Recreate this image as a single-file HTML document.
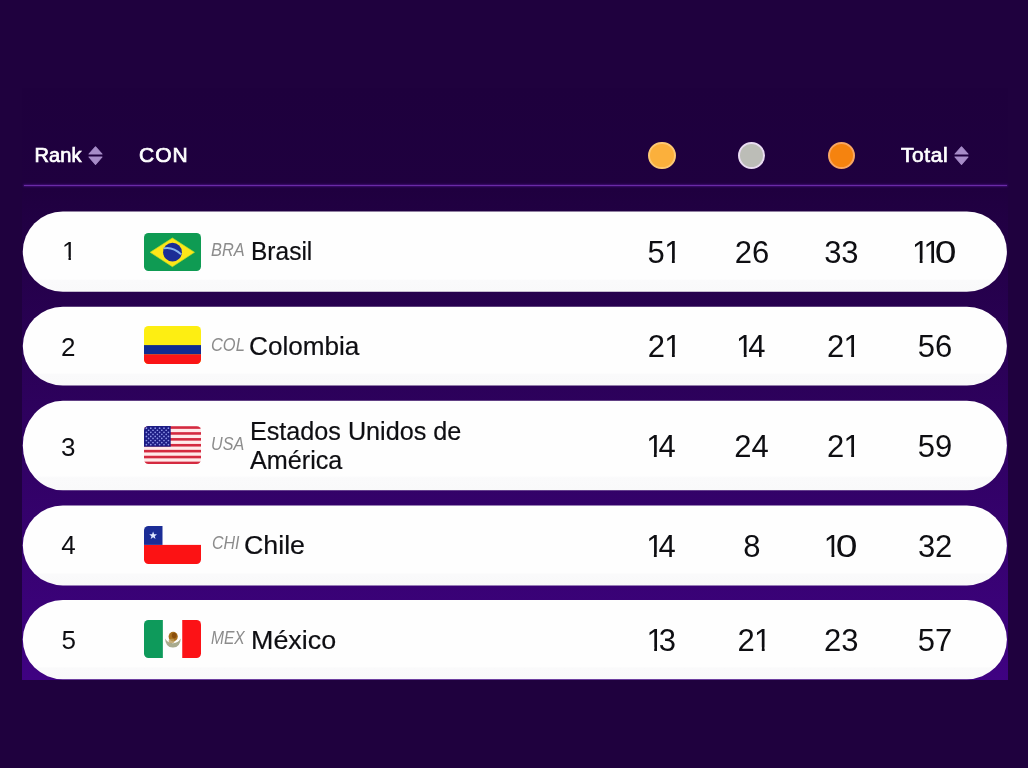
<!DOCTYPE html>
<html lang="es">
<head>
<meta charset="utf-8">
<title>Medallero</title>
<style>
html,body{margin:0;padding:0;}
body{width:1028px;height:768px;overflow:hidden;background:#1f013e;font-family:"Liberation Sans",sans-serif;position:relative;}
.panel{position:absolute;left:22px;top:88px;width:985.5px;height:592px;background:linear-gradient(180deg,#1e003d 0%,#1f003f 17%,#3f0282 100%);}
.hline{position:absolute;left:23.5px;top:185px;width:983.5px;height:1px;background:#6a2aa6;box-shadow:0 0 2px 0.6px #4a1288;}
.t{position:absolute;white-space:nowrap;transform-origin:0 50%;margin:0;}
.th{color:#fff;font-size:20px;line-height:22px;-webkit-text-stroke:0.7px #fff;}
.sort{position:absolute;width:15px;height:19px;}
.dot{position:absolute;width:27.2px;height:27.2px;border-radius:50%;top:141.6px;box-sizing:border-box;}
.rows{position:absolute;left:0;top:0;}
.rk{font-size:26px;line-height:30px;color:#0e0e12;}
.flag{position:absolute;left:144px;width:57.2px;height:38.2px;border-radius:4.5px;overflow:hidden;}
.flag svg{display:block;width:57.2px;height:38.2px;}
.code{font-style:italic;color:#8c8c8c;font-size:19px;line-height:20px;}
.nm{font-size:25.5px;color:#0e0e12;line-height:29.2px;-webkit-text-stroke:0.2px #0e0e12;}
.num{font-size:31px;line-height:34px;color:#0e0e12;}
.num i{font-style:normal;display:inline-block;margin:0 -5px 0 -0.65px;clip-path:polygon(0 0,11px 0,11px 23.5px,10.55px 23.5px,10.55px 100%,7.7px 100%,7.7px 23.5px,0 23.5px);}
.num b{font-weight:normal;display:inline-block;transform:scaleX(1.26);margin:0 2px 0 1.6px;}
.rk i{font-style:normal;display:inline-block;clip-path:polygon(0 0,9.3px 0,9.3px 20.5px,8.85px 20.5px,8.85px 100%,6.45px 100%,6.45px 20.5px,0 20.5px);}
</style>
</head>
<body>
<div class="panel"></div>
<div class="hline"></div>
<svg class="sort" style="left:88.2px;top:146px" viewBox="0 0 15 19"><path d="M7.5 0.8 L14 8 L1 8 Z M1 11 L14 11 L7.5 18.4 Z" fill="#a78cc8" stroke="#a78cc8" stroke-width="1.1" stroke-linejoin="round"/></svg>
<svg class="sort" style="left:953.8px;top:146px" viewBox="0 0 15 19"><path d="M7.5 0.8 L14 8 L1 8 Z M1 11 L14 11 L7.5 18.4 Z" fill="#a78cc8" stroke="#a78cc8" stroke-width="1.1" stroke-linejoin="round"/></svg>
<div class="dot" style="left:648.4px;background:#fbb03c;border:2px solid #fdc873"></div>
<div class="dot" style="left:738.3px;background:#bcbdb7;border:2px solid #eadcf2"></div>
<div class="dot" style="left:827.7px;background:#f5830f;border:2px solid #f9a662"></div>
<svg class="rows" width="1028" height="768" viewBox="0 0 1028 768"><defs><linearGradient id="rg" x1="0" y1="0" x2="0" y2="1"><stop offset="0" stop-color="#fefefe"/><stop offset="0.84" stop-color="#fefefe"/><stop offset="0.86" stop-color="#fafafb"/><stop offset="1" stop-color="#f9f9fa"/></linearGradient></defs><rect x="22.8" y="211.4" width="984.1" height="80.4" rx="40" ry="40.2" fill="url(#rg)"/><rect x="22.8" y="306.7" width="984.1" height="78.8" rx="40" ry="39.4" fill="url(#rg)"/><rect x="22.8" y="400.7" width="984.1" height="89.6" rx="40" ry="44.8" fill="url(#rg)"/><rect x="22.8" y="505.5" width="984.1" height="79.9" rx="40" ry="39.95" fill="url(#rg)"/><rect x="22.8" y="600" width="984.1" height="79.2" rx="40" ry="39.6" fill="url(#rg)"/></svg>
<div class="head">
  <div class="t th" id="rank" style="left:34.57px;top:143.80px;letter-spacing:0.07px">Rank</div>
  <div class="t th" id="con" style="left:138.74px;top:143.80px;transform:scaleX(1.050);letter-spacing:1.01px">CON</div>
  <div class="t th" id="total" style="left:900.83px;top:143.80px;transform:scaleX(1.050);letter-spacing:0.54px">Total</div>
</div>
<div class="r">
  <div class="t rk" id="rk0" style="left:62.06px;top:236.20px"><i>1</i></div>
  <div class="flag" style="top:232.6px"><svg width="57.2" height="38.2" viewBox="0 0 57.2 38.2"><rect width="57.2" height="38.2" fill="#0f9b53"/><path d="M6.2 19.3 L28.4 5 L50.5 19.3 L28.4 33.7 Z" fill="#fde619" stroke="#b9dd24" stroke-width="0.7"/><circle cx="28.5" cy="19.2" r="9.4" fill="#1b2d96"/><path d="M19.6 15.4 Q28.5 13.2 37.2 21.4" fill="none" stroke="#86b2ee" stroke-width="2"/></svg></div>
  <div class="t code" id="code0" style="left:211.22px;top:239.80px;transform:scaleX(0.860)">BRA</div>
  <div class="t nm" id="nm0" style="left:250.64px;top:237.20px;transform:scaleX(0.961)">Brasil</div>
  <div class="t num" id="n00" style="left:647.62px;top:236.00px">5<i>1</i></div>
  <div class="t num" id="n01" style="left:734.66px;top:236.00px">26</div>
  <div class="t num" id="n02" style="left:824.13px;top:236.00px">33</div>
  <div class="t num" id="n03" style="left:912.65px;top:236.00px"><i>1</i><i>1</i><b>0</b></div>
</div>
<div class="r">
  <div class="t rk" id="rk1" style="left:61.10px;top:331.80px">2</div>
  <div class="flag" style="top:326.3px"><svg width="57.2" height="38.2" viewBox="0 0 57.2 38.2"><rect width="57.2" height="38.2" fill="#fdee12"/><rect y="19.1" width="57.2" height="9.4" fill="#0f2b90"/><rect y="28.4" width="57.2" height="9.8" fill="#fa1416"/></svg></div>
  <div class="t code" id="code1" style="left:211.47px;top:334.80px;transform:scaleX(0.865)">COL</div>
  <div class="t nm" id="nm1" style="left:249.46px;top:332.20px;transform:scaleX(1.025)">Colombia</div>
  <div class="t num" id="n10" style="left:647.65px;top:330.20px">2<i>1</i></div>
  <div class="t num" id="n11" style="left:736.76px;top:330.20px"><i>1</i>4</div>
  <div class="t num" id="n12" style="left:826.90px;top:330.20px">2<i>1</i></div>
  <div class="t num" id="n13" style="left:917.67px;top:329.52px">56</div>
</div>
<div class="r">
  <div class="t rk" id="rk2" style="left:60.90px;top:432.00px">3</div>
  <div class="flag" style="top:426px"><svg width="57.2" height="38.2" viewBox="0 0 57.2 38.2"><rect width="57.2" height="38.2" fill="#ffeaea"/><rect y="0.25" width="57.2" height="2.6" fill="#d42a40"/><rect y="6.15" width="57.2" height="2.6" fill="#d42a40"/><rect y="12.05" width="57.2" height="2.6" fill="#d42a40"/><rect y="17.95" width="57.2" height="2.6" fill="#d42a40"/><rect y="23.85" width="57.2" height="2.6" fill="#d42a40"/><rect y="29.75" width="57.2" height="2.6" fill="#d42a40"/><rect y="35.65" width="57.2" height="2.6" fill="#d42a40"/><rect width="26.7" height="20.7" fill="#1c1c84"/><circle cx="2.40" cy="2.20" r="0.85" fill="#8f96e8"/><circle cx="6.80" cy="2.20" r="0.85" fill="#8f96e8"/><circle cx="11.20" cy="2.20" r="0.85" fill="#8f96e8"/><circle cx="15.60" cy="2.20" r="0.85" fill="#8f96e8"/><circle cx="20.00" cy="2.20" r="0.85" fill="#8f96e8"/><circle cx="24.40" cy="2.20" r="0.85" fill="#8f96e8"/><circle cx="4.60" cy="4.25" r="0.85" fill="#8f96e8"/><circle cx="9.00" cy="4.25" r="0.85" fill="#8f96e8"/><circle cx="13.40" cy="4.25" r="0.85" fill="#8f96e8"/><circle cx="17.80" cy="4.25" r="0.85" fill="#8f96e8"/><circle cx="22.20" cy="4.25" r="0.85" fill="#8f96e8"/><circle cx="2.40" cy="6.30" r="0.85" fill="#8f96e8"/><circle cx="6.80" cy="6.30" r="0.85" fill="#8f96e8"/><circle cx="11.20" cy="6.30" r="0.85" fill="#8f96e8"/><circle cx="15.60" cy="6.30" r="0.85" fill="#8f96e8"/><circle cx="20.00" cy="6.30" r="0.85" fill="#8f96e8"/><circle cx="24.40" cy="6.30" r="0.85" fill="#8f96e8"/><circle cx="4.60" cy="8.35" r="0.85" fill="#8f96e8"/><circle cx="9.00" cy="8.35" r="0.85" fill="#8f96e8"/><circle cx="13.40" cy="8.35" r="0.85" fill="#8f96e8"/><circle cx="17.80" cy="8.35" r="0.85" fill="#8f96e8"/><circle cx="22.20" cy="8.35" r="0.85" fill="#8f96e8"/><circle cx="2.40" cy="10.40" r="0.85" fill="#8f96e8"/><circle cx="6.80" cy="10.40" r="0.85" fill="#8f96e8"/><circle cx="11.20" cy="10.40" r="0.85" fill="#8f96e8"/><circle cx="15.60" cy="10.40" r="0.85" fill="#8f96e8"/><circle cx="20.00" cy="10.40" r="0.85" fill="#8f96e8"/><circle cx="24.40" cy="10.40" r="0.85" fill="#8f96e8"/><circle cx="4.60" cy="12.45" r="0.85" fill="#8f96e8"/><circle cx="9.00" cy="12.45" r="0.85" fill="#8f96e8"/><circle cx="13.40" cy="12.45" r="0.85" fill="#8f96e8"/><circle cx="17.80" cy="12.45" r="0.85" fill="#8f96e8"/><circle cx="22.20" cy="12.45" r="0.85" fill="#8f96e8"/><circle cx="2.40" cy="14.50" r="0.85" fill="#8f96e8"/><circle cx="6.80" cy="14.50" r="0.85" fill="#8f96e8"/><circle cx="11.20" cy="14.50" r="0.85" fill="#8f96e8"/><circle cx="15.60" cy="14.50" r="0.85" fill="#8f96e8"/><circle cx="20.00" cy="14.50" r="0.85" fill="#8f96e8"/><circle cx="24.40" cy="14.50" r="0.85" fill="#8f96e8"/><circle cx="4.60" cy="16.55" r="0.85" fill="#8f96e8"/><circle cx="9.00" cy="16.55" r="0.85" fill="#8f96e8"/><circle cx="13.40" cy="16.55" r="0.85" fill="#8f96e8"/><circle cx="17.80" cy="16.55" r="0.85" fill="#8f96e8"/><circle cx="22.20" cy="16.55" r="0.85" fill="#8f96e8"/><circle cx="2.40" cy="18.60" r="0.85" fill="#8f96e8"/><circle cx="6.80" cy="18.60" r="0.85" fill="#8f96e8"/><circle cx="11.20" cy="18.60" r="0.85" fill="#8f96e8"/><circle cx="15.60" cy="18.60" r="0.85" fill="#8f96e8"/><circle cx="20.00" cy="18.60" r="0.85" fill="#8f96e8"/><circle cx="24.40" cy="18.60" r="0.85" fill="#8f96e8"/></svg></div>
  <div class="t code" id="code2" style="left:211.46px;top:434.20px;transform:scaleX(0.848)">USA</div>
  <div class="t nm" id="nm2" style="left:250.12px;top:416.80px;transform:scaleX(0.987)">Estados Unidos de<br>América</div>
  <div class="t num" id="n20" style="left:646.85px;top:430.00px"><i>1</i>4</div>
  <div class="t num" id="n21" style="left:734.35px;top:430.00px">24</div>
  <div class="t num" id="n22" style="left:826.90px;top:430.00px">2<i>1</i></div>
  <div class="t num" id="n23" style="left:917.80px;top:430.01px">59</div>
</div>
<div class="r">
  <div class="t rk" id="rk3" style="left:61.37px;top:530.00px">4</div>
  <div class="flag" style="top:526px"><svg width="57.2" height="38.2" viewBox="0 0 57.2 38.2"><rect width="57.2" height="38.2" fill="#fefefe"/><rect y="18.9" width="57.2" height="19.3" fill="#fc1214"/><rect width="18.5" height="18.9" fill="#1b2d96"/><polygon points="9.10,5.50 10.11,8.21 13.00,8.33 10.74,10.13 11.51,12.92 9.10,11.32 6.69,12.92 7.46,10.13 5.20,8.33 8.09,8.21" fill="#dfe8ff"/></svg></div>
  <div class="t code" id="code3" style="left:211.50px;top:532.80px;transform:scaleX(0.841)">CHI</div>
  <div class="t nm" id="nm3" style="left:244.31px;top:531.32px;transform:scaleX(1.050)">Chile</div>
  <div class="t num" id="n30" style="left:646.85px;top:530.20px"><i>1</i>4</div>
  <div class="t num" id="n31" style="left:743.28px;top:529.76px">8</div>
  <div class="t num" id="n32" style="left:824.45px;top:530.20px"><i>1</i><b>0</b></div>
  <div class="t num" id="n33" style="left:917.88px;top:530.20px">32</div>
</div>
<div class="r">
  <div class="t rk" id="rk4" style="left:61.41px;top:625.24px">5</div>
  <div class="flag" style="top:619.8px"><svg width="57.2" height="38.2" viewBox="0 0 57.2 38.2"><rect width="57.2" height="38.2" fill="#fefefe"/><rect width="18.85" height="38.2" fill="#0e9a5b"/><rect x="38.25" width="18.95" height="38.2" fill="#fc1216"/><path d="M21 18.6 Q21.6 27.8 28.9 27.6 Q36.2 27.8 36.8 18.6 Q33.6 23.4 28.9 23.2 Q24.2 23.4 21 18.6 Z" fill="#a9ab8e"/><ellipse cx="29.2" cy="16.6" rx="4.6" ry="4.9" fill="#a8701e"/><ellipse cx="30.2" cy="15.6" rx="2.4" ry="2.8" fill="#8a4e0c"/><ellipse cx="27.6" cy="21" rx="3" ry="2.2" fill="#b99a5a" opacity="0.8"/></svg></div>
  <div class="t code" id="code4" style="left:211.31px;top:627.80px;transform:scaleX(0.820)">MEX</div>
  <div class="t nm" id="nm4" style="left:250.70px;top:626.32px;transform:scaleX(1.054)">México</div>
  <div class="t num" id="n40" style="left:647.13px;top:623.80px"><i>1</i>3</div>
  <div class="t num" id="n41" style="left:737.51px;top:623.80px">2<i>1</i></div>
  <div class="t num" id="n42" style="left:823.96px;top:623.80px">23</div>
  <div class="t num" id="n43" style="left:917.72px;top:623.80px">57</div>
</div>
</body>
</html>
